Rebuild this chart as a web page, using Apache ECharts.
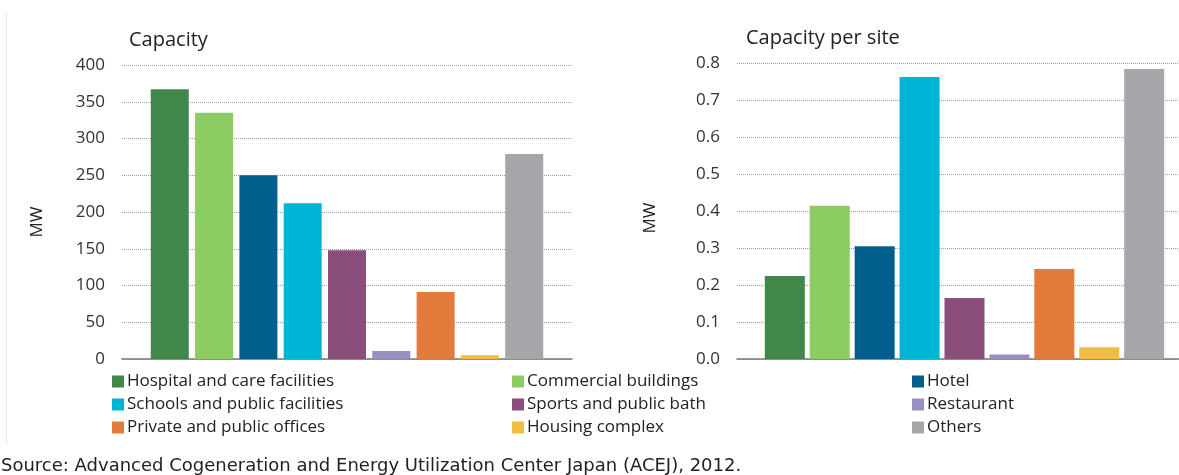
<!DOCTYPE html>
<html>
<head>
<meta charset="utf-8">
<script src="https://cdn.jsdelivr.net/npm/echarts@6/dist/echarts.min.js"></script>
<style>html,body{margin:0;padding:0;background:#fff;}#c{width:1179px;height:475px;}</style>
</head>
<body>
<div id="c"></div>
<script>
const categories = ['Hospital and care facilities','Commercial buildings','Hotel','Schools and public facilities','Sports and public bath','Restaurant','Private and public offices','Housing complex','Others'];
const capacity = [367, 335, 250, 212, 148, 11, 91, 5, 279];
const capacityPerSite = [0.224, 0.414, 0.305, 0.762, 0.165, 0.012, 0.243, 0.032, 0.784];
const colors = ['#41874a','#8dcb63','#005f8c','#00b4d8','#8b4d7c','#9b8fc1','#e47a3c','#f0bd42','#a5a6aa'];
const leftTicks = [0, 400, 50];
const rightTicks = [0, 0.8, 0.1];

const font = '"Open Sans", sans-serif';
const chart = echarts.init(document.getElementById('c'), null, {renderer:'canvas'});

const series = [];
categories.forEach((name, i) => {
  series.push({type:'bar', name, xAxisIndex:0, yAxisIndex:0, data:[capacity[i]],
    itemStyle:{color:colors[i]}, barWidth:38, barGap:'16.6%'});
});
categories.forEach((name, i) => {
  series.push({type:'bar', name, xAxisIndex:1, yAxisIndex:1, data:[capacityPerSite[i]],
    itemStyle:{color:colors[i]}, barWidth:40, barGap:'12.3%'});
});

const legendCols = [112, 512, 912];
const legendRows = [373, 396, 419];
const legends = categories.map((name, i) => ({
  data:[name], left: legendCols[i % 3], top: legendRows[Math.floor(i / 3)],
  itemWidth:12, itemHeight:12, itemGap:0, icon:'rect', padding:0,
  textStyle:{fontFamily:font, fontSize:17, color:'#222', padding:[0,0,0,-2]},
  selectedMode:false
}));

const axisY = (t, fmt) => ({
  type:'value', min:t[0], max:t[1], interval:t[2],
  axisLine:{show:false}, axisTick:{show:false},
  axisLabel:{fontFamily:font, fontSize:17, color:'#333', margin:17, formatter:fmt},
  splitLine:{lineStyle:{color:'#9a9a9a', type:[1,1], width:1}}
});
const axisX = () => ({
  type:'category', data:[''],
  axisLine:{lineStyle:{color:'#7a7a7a', width:1.5}}, axisTick:{show:false}, axisLabel:{show:false}
});

chart.setOption({
  animation:false,
  textStyle:{fontFamily:font},
  grid:[
    {left:122, top:65, width:450, height:294, outerBoundsMode:'none'},
    {left:737, top:63, width:455, height:296, outerBoundsMode:'none'}
  ],
  xAxis:[Object.assign(axisX(), {gridIndex:0}), Object.assign(axisX(), {gridIndex:1})],
  yAxis:[
    Object.assign(axisY(leftTicks, v => v), {gridIndex:0}),
    Object.assign(axisY(rightTicks, v => v.toFixed(1)), {gridIndex:1})
  ],
  legend: legends,
  title:[
    {text:'Capacity', left:129, top:30, padding:0, textStyle:{fontFamily:font, fontSize:20, fontWeight:'normal', color:'#222'}},
    {text:'Capacity per site', left:746, top:28, padding:0, textStyle:{fontFamily:font, fontSize:20, fontWeight:'normal', color:'#222'}}
  ],
  graphic:[
    {type:'text', x:37, y:222, rotation:Math.PI/2, style:{text:'MW', font:'17px '+font, fill:'#222', align:'center', verticalAlign:'middle'}},
    {type:'text', x:650, y:218, rotation:Math.PI/2, style:{text:'MW', font:'17px '+font, fill:'#222', align:'center', verticalAlign:'middle'}},
    {type:'text', x:1, y:457, style:{text:'Source: Advanced Cogeneration and Energy Utilization Center Japan (ACEJ), 2012.', font:'18px "DejaVu Sans", sans-serif', fill:'#222'}},
    {type:'line', shape:{x1:6.5, y1:12, x2:6.5, y2:445}, style:{stroke:'#e6e6e6', lineWidth:1}}
  ],
  series
});
</script>
</body>
</html>
